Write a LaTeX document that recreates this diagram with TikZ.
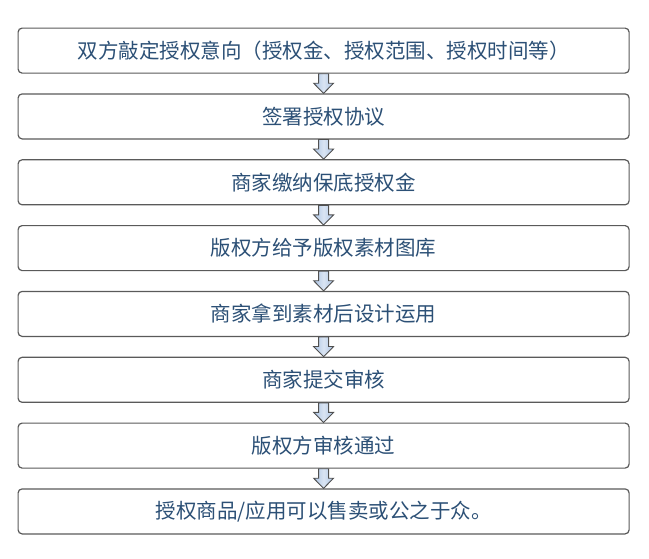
\documentclass[tikz,border=0pt]{standalone}
\usepackage{fontspec}
\newfontfamily\cjk{Noto Sans CJK SC}
\usetikzlibrary{calc}
\definecolor{txt}{RGB}{44,80,118}
\definecolor{bord}{RGB}{90,90,90}
\definecolor{arrfill}{RGB}{172,196,228}
\definecolor{arrbord}{RGB}{80,80,80}
\begin{document}
\begin{tikzpicture}[x=1pt,y=-1pt,
  stepbox/.style={draw=bord,line width=1.2pt,rounded corners=4pt,fill=white,
    minimum width=611pt,minimum height=45pt,inner sep=0pt,anchor=north west,
    font=\cjk\fontsize{20.5pt}{23pt}\selectfont,text=txt},
  flowarrow/.style={draw=arrbord,line width=0.9pt,line join=miter,
    left color=arrfill,right color=arrfill,middle color=white!55!arrfill}]
\useasboundingbox (0,0) rectangle (649,558);
\node[stepbox] (b1) at (17.5,27.5) {双方敲定授权意向（授权金、授权范围、授权时间等）};
\node[stepbox] (b2) at (17.5,93.3) {签署授权协议};
\node[stepbox] (b3) at (17.5,159.2) {商家缴纳保底授权金};
\node[stepbox] (b4) at (17.5,225.0) {版权方给予版权素材图库};
\node[stepbox] (b5) at (17.5,290.8) {商家拿到素材后设计运用};
\node[stepbox] (b6) at (17.5,356.7) {商家提交审核};
\node[stepbox] (b7) at (17.5,422.5) {版权方审核通过};
\node[stepbox] (b8) at (17.5,488.3) {授权商品/应用可以售卖或公之于众。};
\foreach \i/\j in {1/2,2/3,3/4,4/5,5/6,6/7,7/8}{
  \coordinate (s\i) at ($(b\i.south)+(0,0)$);
  \coordinate (t\i) at ($(b\j.north)+(0,0)$);
  \draw[flowarrow] ($(s\i)+(-5,0)$) -- ($(s\i)+(5,0)$) -- ($(s\i)+(5,9.5)$) -- ($(s\i)+(10,9.5)$)
    -- (t\i) -- ($(s\i)+(-10,9.5)$) -- ($(s\i)+(-5,9.5)$) -- cycle;
}
\end{tikzpicture}
\end{document}
